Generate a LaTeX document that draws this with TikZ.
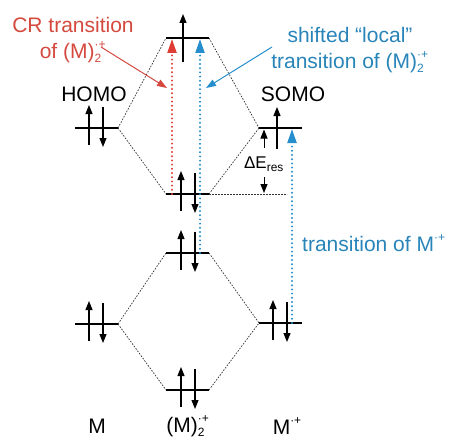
\documentclass[tikz,border=0pt]{standalone}
\usepackage{fontspec}
\setmainfont{Liberation Sans}
\usetikzlibrary{arrows.meta}
\definecolor{cred}{RGB}{222,60,52}
\definecolor{cblue}{RGB}{38,142,205}
\definecolor{tred}{RGB}{212,72,62}
\definecolor{tblue}{RGB}{40,132,185}
\newcommand{\dimcat}{(M)\makebox[0.55em][l]{\rlap{\raisebox{0.47em}{\fontsize{12}{12}\selectfont ·+}}\raisebox{-0.22em}{\fontsize{12}{12}\selectfont 2}}}
\newcommand{\moncat}{M\raisebox{0.47em}{\fontsize{12}{12}\selectfont ·+}}
\begin{document}
\begin{tikzpicture}[x=1pt,y=-1pt,
  level/.style={line width=1.8pt},
  corr/.style={line width=0.7pt, black!80, dash pattern=on 1.6pt off 1.4pt},
  elec/.style={line width=1.1pt, -{Triangle[length=9pt,width=7pt]}},
  trans/.style={line width=2.2pt, line cap=round, dash pattern=on 0pt off 4.2pt, -{Triangle[length=14pt,width=9pt]}},
  lab/.style={font=\fontsize{21}{24}\selectfont, inner sep=0pt},
  pointer/.style={line width=1pt, -{Triangle[length=10pt,width=7pt]}}]
\useasboundingbox (0,0) rectangle (449,441);
% level end points
\coordinate (L1a) at (75,128);  \coordinate (L1b) at (118,128);
\coordinate (L2a) at (75,324);  \coordinate (L2b) at (118,324);
\coordinate (C1a) at (166,38);  \coordinate (C1b) at (209,38);
\coordinate (C2a) at (166,194); \coordinate (C2b) at (209,194);
\coordinate (C3a) at (166,253); \coordinate (C3b) at (209,253);
\coordinate (C4a) at (166,390); \coordinate (C4b) at (209,390);
\coordinate (R1a) at (259,128); \coordinate (R1b) at (302,128);
\coordinate (R2a) at (259,323); \coordinate (R2b) at (302,323);
% correlation lines
\draw[corr] (L1b) -- (C1a) (L1b) -- (C2a) (C1b) -- (R1a) (C2b) -- (R1a);
\draw[corr] (L2b) -- (C3a) (L2b) -- (C4a) (C3b) -- (R2a) (C4b) -- (R2a);
\coordinate (hdE) at (287,194);
\draw[corr] (C2b) -- (hdE);
% levels
\foreach \n in {L1,L2,C1,C2,C3,C4,R1,R2} \draw[level] (\n a) -- (\n b);
% electrons (paired)
\foreach \x/\y in {89/128, 89/324, 181/194, 181/253, 181/390, 273/323}{
  \draw[elec] (\x,\y+17) -- (\x,\y-23);
  \draw[elec] (\x+14,\y-21) -- (\x+14,\y+19);
}
% single electrons
\draw[elec] (183,62) -- (183,14);
\draw[elec] (277,149) -- (277,107);
% Delta E res
\coordinate (dEu1) at (264,148); \coordinate (dEu2) at (264,129.5);
\coordinate (dEd1) at (264,177); \coordinate (dEd2) at (264,193);
\draw[elec,line width=0.9pt] (dEu1) -- (dEu2);
\draw[elec,line width=0.9pt] (dEd1) -- (dEd2);
\node[inner sep=0pt, font=\fontsize{17}{20}\selectfont] (dE) at (264,164) {ΔE\textsubscript{res}};
% transitions
\coordinate (t1s) at (172,194); \coordinate (t1e) at (172,39);
\coordinate (t2s) at (200,253); \coordinate (t2e) at (200,39);
\coordinate (t3s) at (292,323); \coordinate (t3e) at (292,129);
\draw[trans, cred] (t1s) -- (t1e);
\draw[trans, cblue] (t2s) -- (t2e);
\draw[trans, cblue] (t3s) -- (t3e);
% labels
\node[lab] (homo) at (94,94) {HOMO};
\node[lab] (somo) at (293,94) {SOMO};
\node[lab, text=tred, align=center] (cr) at (73,40) {CR transition\\[2pt]of \dimcat};
\node[lab, text=tblue, align=center] (loc) at (350,50) {shifted “local”\\[2pt]transition of \dimcat};
\node[lab, text=tblue, anchor=west] (trm) at (302,243) {transition of \moncat};
\node[lab] (bM) at (97,426) {M};
\node[lab] (bD) at (188,426) {\dimcat};
\node[lab] (bR) at (287,426) {\moncat};
% pointers
\coordinate (p1s) at (101,47); \coordinate (p1e) at (167,88);
\coordinate (p2s) at (272,47); \coordinate (p2e) at (206,88);
\draw[pointer, tred] (p1s) -- (p1e);
\draw[pointer, cblue] (p2s) -- (p2e);
\end{tikzpicture}
\end{document}
